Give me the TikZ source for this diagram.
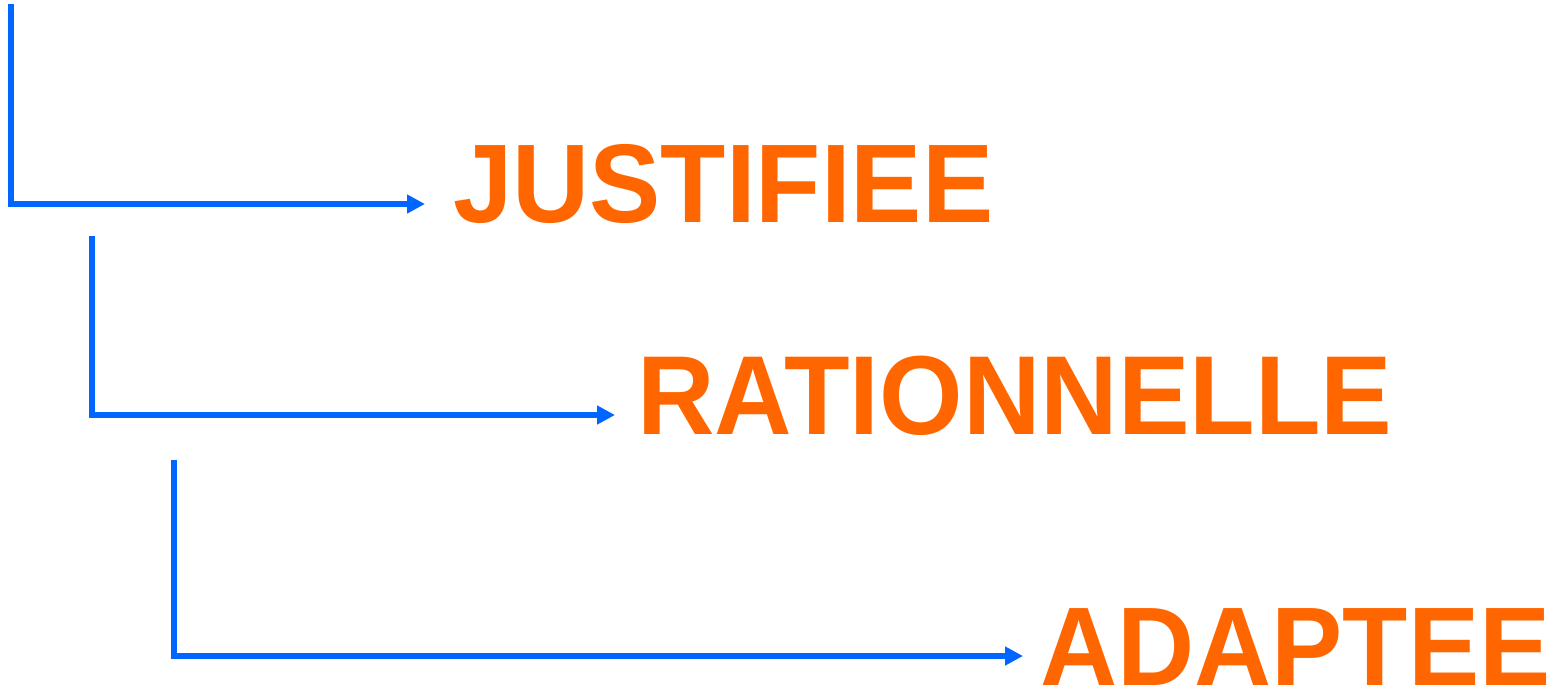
\documentclass[tikz,border=0pt]{standalone}
\usepackage{fontspec}
\setmainfont{Liberation Sans}
\usetikzlibrary{arrows.meta}
\definecolor{wordorange}{HTML}{FF6600}
\definecolor{linkblue}{HTML}{0066FF}
\newcommand{\tallword}[1]{\scalebox{1}[1.047]{#1}}
\tikzset{
  word/.style={anchor=base west, inner sep=0pt, text=wordorange,
    font=\fontsize{106.8}{110}\selectfont\bfseries},
  link/.style={draw=linkblue, line width=6pt,
    -{Triangle[length=18pt,width=18pt]}},
}
\begin{document}
\begin{tikzpicture}[x=1pt,y=-1pt]
  \useasboundingbox (0,0) rectangle (1565,688);
  % words
  \node[word] (w1) at (453,222) {\tallword{JUSTIFIEE}};
  \node[word] (w2) at (637,434) {\scalebox{1.005}[1.052]{RATIONNELLE}};
  \node[word] (w3) at (1040,685) {\tallword{ADAPTEE}};
  % elbow starts and arrow tips
  \coordinate (s1) at (11,4);
  \coordinate (t1) at (425,204);
  \coordinate (s2) at (92,236);
  \coordinate (t2) at (615,415);
  \coordinate (s3) at (174,460);
  \coordinate (t3) at (1023,656);
  % connectors
  \draw[link] (s1) |- (t1);
  \draw[link] (s2) |- (t2);
  \draw[link] (s3) |- (t3);
\end{tikzpicture}
\end{document}
